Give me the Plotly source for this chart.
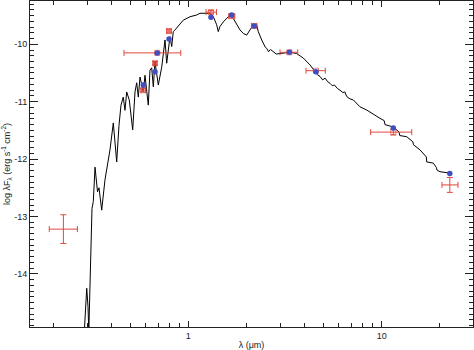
import plotly.graph_objects as go

# --- model spectrum (wavelength in micron, log lambda F_lambda) ---
spec_lam = [0.290, 0.2984, 0.3030, 0.3059, 0.3177, 0.3227, 0.3294, 0.3393, 0.3454, 0.3566,
            0.3709, 0.3843, 0.3936, 0.4095, 0.4264, 0.4382, 0.4487, 0.4611, 0.4706, 0.4802,
            0.4953, 0.5158, 0.5302, 0.5410, 0.5515, 0.5627, 0.5852, 0.5972, 0.6211, 0.6338,
            0.6468, 0.6592, 0.6727, 0.6997, 0.7286, 0.7578, 0.7732, 0.8042, 0.8208, 0.8364,
            0.8536, 0.9421, 1.0205, 1.105, 1.149, 1.220, 1.295, 1.347, 1.402, 1.429,
            1.458, 1.517, 1.579, 1.643, 1.709, 1.780, 1.851, 1.924, 2.004, 2.084,
            2.168, 2.258, 2.301, 2.396, 2.45, 2.50, 2.543, 2.60, 2.66, 2.751, 2.85, 2.980,
            3.357, 3.635, 3.931, 4.259, 4.520, 4.65, 4.797, 4.95, 5.10, 5.25, 5.403, 5.55,
            5.70, 5.90, 6.086, 6.30, 6.45, 6.592, 6.85, 7.134, 7.726, 8.365, 9.800, 10.30,
            10.40, 11.48, 12.30, 12.40, 13.47, 14.50, 14.60, 15.78, 17.0, 17.1, 18.49,
            19.20, 19.30, 20.02, 22.11]
spec_logf = [-15.0, -14.25, -14.57, -15.0, -12.86, -12.74, -12.14, -12.57, -12.50, -12.89,
             -12.36, -12.02, -11.84, -11.37, -12.05, -11.41, -11.06, -10.92, -11.15, -10.83,
             -10.97, -11.49, -10.83, -10.67, -10.92, -10.57, -10.83, -10.54, -11.06, -10.45,
             -10.41, -10.74, -10.31, -10.71, -10.40, -9.925, -10.33, -9.868, -10.04, -9.78,
             -9.75, -9.58, -9.52, -9.49, -9.46, -9.46, -9.46, -9.52, -9.66, -9.78,
             -9.69, -9.61, -9.55, -9.49, -9.55, -9.66, -9.75, -9.81, -9.84, -9.75,
             -9.66, -9.66, -9.78, -9.925, -9.99, -10.05, -10.07, -10.13, -10.09, -10.13, -10.17, -10.16,
             -10.14, -10.16, -10.24, -10.36, -10.48, -10.53, -10.56, -10.62, -10.59, -10.65, -10.68, -10.72,
             -10.71, -10.77, -10.80, -10.84, -10.83, -10.91, -10.95, -10.97, -11.09, -11.145, -11.29, -11.33,
             -11.40, -11.44, -11.53, -11.59, -11.61, -11.70, -11.75, -11.84, -11.96, -12.05, -12.07,
             -12.15, -12.19, -12.22, -12.24]

# --- observed photometry ---
obs_lam = [0.226, 0.585, 0.673, 0.691, 0.795, 1.31, 1.676, 2.19, 3.33, 4.57, 11.48, 22.5]
obs_logf = [-13.22, -10.80, -10.33, -10.15, -9.77, -9.44, -9.51, -9.68, -10.14, -10.46, -11.53, -12.45]
obs_lam_lo = [0.191, 0.570, 0.660, 0.465, 0.775, 1.235, 1.62, 2.12, 2.98, 4.06, 8.77, 20.5]
obs_lam_hi = [0.267, 0.600, 0.686, 0.914, 0.815, 1.40, 1.74, 2.26, 3.68, 5.11, 14.3, 24.8]
obs_err = [0.25, 0.03, 0.03, 0.0, 0.03, 0.03, 0.03, 0.03, 0.0, 0.0, 0.05, 0.13]
obs_box = [0, 5, 5, 5, 5, 5, 5, 5, 5, 5, 5, 0]

# --- model photometry ---
mod_lam = [0.585, 0.673, 0.691, 0.795, 1.31, 1.676, 2.19, 3.33, 4.57, 11.48, 22.5]
mod_logf = [-10.71, -10.48, -10.15, -9.91, -9.53, -9.49, -9.68, -10.14, -10.48, -11.46, -12.25]

x_major = [1, 10]
x_major_text = ["1", "10"]
x_minor = [0.2, 0.3, 0.4, 0.5, 0.6, 0.7, 0.8, 0.9, 2, 3, 4, 5, 6, 7, 8, 9, 20, 30]
y_major = [-14, -13, -12, -11, -10]
y_major_text = ["-14", "-13", "-12", "-11", "-10"]

RED = "#e0483c"
BLUE = "#3f4fc2"

fig = go.Figure()
fig.add_trace(go.Scatter(x=spec_lam, y=spec_logf, mode="lines",
                         line=dict(color="black", width=1), hoverinfo="skip"))
fig.add_trace(go.Scatter(
    x=obs_lam, y=obs_logf, mode="markers",
    marker=dict(symbol="square-open", size=obs_box, color=RED, line=dict(width=1, color=RED)),
    error_x=dict(type="data", symmetric=False,
                 array=[h - l for h, l in zip(obs_lam_hi, obs_lam)],
                 arrayminus=[l - lo for l, lo in zip(obs_lam, obs_lam_lo)],
                 color=RED, thickness=1, width=3),
    error_y=dict(type="data", array=obs_err, color=RED, thickness=1, width=3)))
fig.add_trace(go.Scatter(x=mod_lam, y=mod_logf, mode="markers",
                         marker=dict(symbol="circle", size=5.5, color=BLUE)))

axis_font = dict(family="Liberation Sans, Arial, sans-serif", size=9, color="#222")
fig.update_layout(
    width=474, height=350,
    margin=dict(l=30, r=1, t=1, b=23),
    paper_bgcolor="white", plot_bgcolor="white",
    showlegend=False,
    font=axis_font,
    xaxis=dict(type="log", range=[-0.8185, 1.4721],
               tickmode="array", tickvals=x_major, ticktext=x_major_text,
               ticks="inside", ticklen=6, tickwidth=1, tickcolor="#222",
               minor=dict(tickmode="array", tickvals=x_minor, ticks="inside",
                          ticklen=4, tickwidth=1, tickcolor="#222"),
               showline=True, linecolor="#222", linewidth=1, mirror="allticks",
               showgrid=False, zeroline=False, automargin=False,
               title=dict(text="λ (μm)", font=axis_font, standoff=2)),
    yaxis=dict(range=[-14.925, -9.246],
               tickmode="array", tickvals=y_major, ticktext=y_major_text,
               ticks="inside", ticklen=8, tickwidth=1, tickcolor="#222",
               minor=dict(dtick=0.1, tick0=0, ticks="inside", ticklen=4,
                          tickwidth=1, tickcolor="#222"),
               showline=True, linecolor="#222", linewidth=1, mirror="allticks",
               showgrid=False, zeroline=False, automargin=False,
               title=dict(text="log λF<sub>λ</sub> (erg s<sup>-1</sup> cm<sup>-2</sup>)",
                          font=axis_font, standoff=3)),
)
fig.write_html("out.html", post_script="document.body.style.margin='0';",
               config={"displayModeBar": False})
